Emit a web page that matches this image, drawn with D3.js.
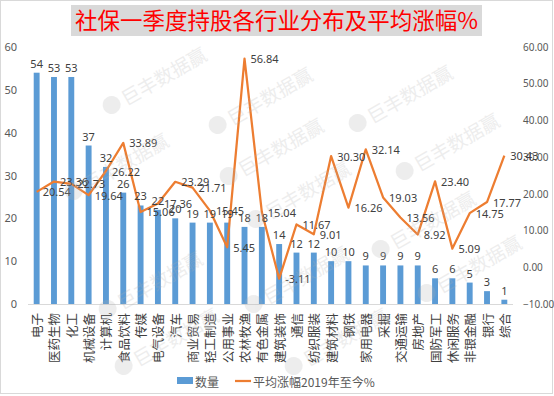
<!DOCTYPE html>
<html><head><meta charset="utf-8">
<script src="https://cdn.jsdelivr.net/npm/d3@7"></script>
<style>
html,body{margin:0;padding:0;background:#fff;}
svg{display:block;font-family:"Noto Sans CJK SC","Noto Sans",sans-serif;}
</style></head>
<body><svg id="c" width="554" height="396"></svg>
<script>
const title = "社保一季度持股各行业分布及平均涨幅%";
const categories = ["电子","医药生物","化工","机械设备","计算机","食品饮料","传媒","电气设备","汽车","商业贸易","轻工制造","公用事业","农林牧渔","有色金属","建筑装饰","通信","纺织服装","建筑材料","钢铁","家用电器","采掘","交通运输","房地产","国防军工","休闲服务","非银金融","银行","综合"];
const counts = [54,53,53,37,32,26,23,22,20,19,19,19,18,18,14,12,12,10,10,9,9,9,9,6,6,5,3,1];
const avgGain = [20.54,23.36,22.73,19.64,26.22,33.89,15.06,17.36,23.29,21.71,15.45,5.45,56.84,15.04,-3.11,11.67,9.01,30.30,16.26,32.14,19.03,13.56,8.92,23.40,5.09,14.75,17.77,30.43];
const leftTicks = [0,10,20,30,40,50,60];
const rightTicks = [-10,0,10,20,30,40,50,60];
const legendLabels = ["数量","平均涨幅2019年至今%"];
const watermarkText = "巨丰数据赢";
const watermarkSpots = [[148,84],[254,104],[394,102],[265,155],[441,150],[110,170],[292,198],[417,228],[144,288],[290,283],[463,272],[160,345],[330,345]];

const svg = d3.select("#c");
const W = 554, H = 396;
const blue = "#5b9bd5", orange = "#ed7d31";

// outer border
svg.append("rect").attr("x",0.5).attr("y",0.5).attr("width",W-2).attr("height",H-3)
  .attr("fill","#fff").attr("stroke","#d9d9d9");

// title
svg.append("rect").attr("x",71).attr("y",5).attr("width",411).attr("height",31).attr("fill","#d9d9d9");
svg.append("text").attr("x",75).attr("y",29).attr("font-size",22.5).attr("fill","#ff0000")
  .attr("textLength",403).attr("lengthAdjust","spacingAndGlyphs").text(title);

const x = d3.scaleBand().domain(categories).range([28,513]).paddingInner(0.66).paddingOuter(0.33);
const yL = d3.scaleLinear().domain([0,60]).range([304,47]);
const yR = d3.scaleLinear().domain([-10,60]).range([304,47]);
const xc = d => x(d) + x.bandwidth()/2;

// axes tick labels
const la = svg.append("g").attr("transform","translate(28,0)")
  .call(d3.axisLeft(yL).tickValues(leftTicks).tickSize(0).tickPadding(11));
la.select(".domain").remove();
la.selectAll("text").attr("font-size",11).attr("fill","#595959").attr("font-family","'Noto Sans',sans-serif");

const ra = svg.append("g").attr("transform","translate(513,0)")
  .call(d3.axisRight(yR).tickValues(rightTicks).tickFormat(d3.format(".2f")).tickSize(0).tickPadding(10));
ra.select(".domain").remove();
ra.selectAll("text").attr("font-size",10).attr("fill","#595959").attr("font-family","'Noto Sans',sans-serif");

// x axis line
svg.append("line").attr("x1",28).attr("x2",513).attr("y1",yL(0)+0.5).attr("y2",yL(0)+0.5).attr("stroke","#d9d9d9");

// bars
svg.append("g").selectAll("rect").data(categories).join("rect")
  .attr("x",d=>x(d)).attr("width",x.bandwidth())
  .attr("y",(d,i)=>yL(counts[i])).attr("height",(d,i)=>yL(0)-yL(counts[i]))
  .attr("fill",blue);

// line
const line = d3.line().x((d,i)=>xc(categories[i])).y(d=>yR(d));
svg.append("path").datum(avgGain).attr("d",line).attr("fill","none")
  .attr("stroke",orange).attr("stroke-width",2.25).attr("stroke-linejoin","round");

// category labels
svg.append("g").selectAll("text").data(categories).join("text")
  .attr("transform",d=>`translate(${xc(d)},313) rotate(-90)`)
  .attr("text-anchor","end").attr("dominant-baseline","central")
  .attr("font-size",12.5).attr("fill","#404040").text(d=>d);

// bar labels
svg.append("g").selectAll("text").data(categories).join("text")
  .attr("x",d=>xc(d)).attr("y",(d,i)=>yL(counts[i])-5)
  .attr("text-anchor","middle").attr("font-size",11).attr("fill","#404040")
  .attr("font-family","'Noto Sans',sans-serif").text((d,i)=>counts[i]);

// line labels
svg.append("g").selectAll("text").data(categories).join("text")
  .attr("x",d=>xc(d)+6).attr("y",(d,i)=>yR(avgGain[i]))
  .attr("dominant-baseline","central").attr("font-size",11).attr("fill","#404040")
  .attr("font-family","'Noto Sans',sans-serif").text((d,i)=>avgGain[i].toFixed(2));

// watermarks
const wm = svg.append("g").attr("pointer-events","none");
watermarkSpots.forEach(p=>{
  const g = wm.append("g").attr("transform",`translate(${p[0]},${p[1]}) rotate(-30)`).attr("opacity",0.22);
  g.append("circle").attr("cx",-42).attr("cy",0).attr("r",9).attr("fill","#b0b0b0");
  g.append("text").attr("x",-30).attr("y",0).attr("dominant-baseline","central")
    .attr("font-size",19).attr("fill","#b0b0b0").text(watermarkText);
});

// legend
svg.append("rect").attr("x",177).attr("y",377).attr("width",16).attr("height",7).attr("fill",blue);
svg.append("text").attr("x",195).attr("y",381).attr("dominant-baseline","central")
  .attr("font-size",12).attr("fill","#595959").text(legendLabels[0]);
svg.append("line").attr("x1",235).attr("x2",251).attr("y1",381).attr("y2",381)
  .attr("stroke",orange).attr("stroke-width",2.25);
svg.append("text").attr("x",253).attr("y",381).attr("dominant-baseline","central")
  .attr("font-size",12).attr("fill","#595959").text(legendLabels[1]);
</script></body></html>
